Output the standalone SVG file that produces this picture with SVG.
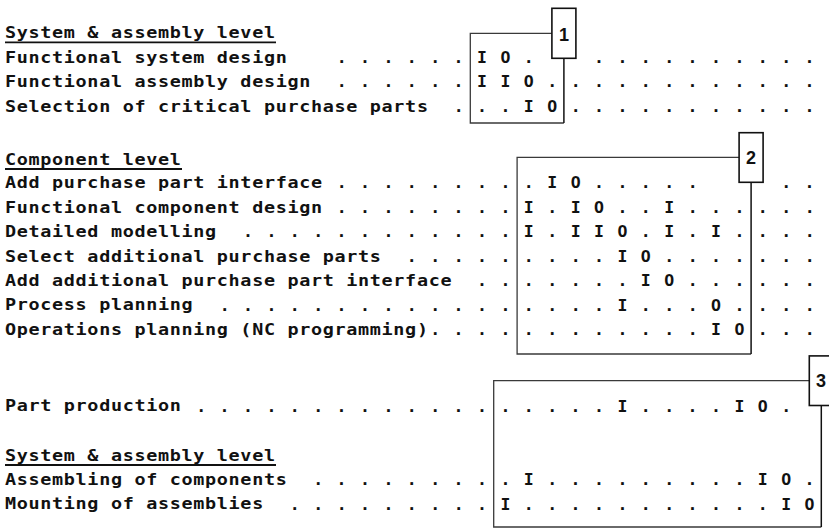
<svg xmlns="http://www.w3.org/2000/svg" width="829" height="529" viewBox="0 0 829 529">
  <style>
    .t { font-family: "DejaVu Sans Mono", "Liberation Mono", monospace; font-weight: bold; font-size: 16.5px; fill: #111; }
    /* labels are widened by scale(1.12 1); 0.584px tracking keeps an 11.78px character pitch */
    .lab { letter-spacing: 0.584px; }
    .g { letter-spacing: 1.766px; }
    .ul { stroke: #111; stroke-width: 1.8; }
    .frame { fill: none; stroke: #3a3a3a; stroke-width: 1.3; }
    .edge { fill: none; stroke: #111; stroke-width: 1.5; }
    .tag { fill: #fff; stroke: #111; stroke-width: 1.6; }
    .n { font-family: "Liberation Sans", Arial, sans-serif; font-weight: bold; font-size: 18px; fill: #111; text-anchor: middle; }
  </style>
  <rect width="829" height="529" fill="#fff"/>

  <!-- Grid columns: column k is centred at x = 482 + 23.4k; runs start half a glyph left of that -->

  <!-- System & assembly level (design) -->
  <g id="heading-system-1">
    <text class="t lab" transform="scale(1.12 1)" x="4.46" y="38.5">System &amp; assembly level</text>
    <line class="ul" x1="5" y1="42.3" x2="276" y2="42.3"/>
  </g>
  <g id="row-functional-system-design">
    <text class="t lab" transform="scale(1.12 1)" x="4.46" y="62.9">Functional system design</text>
    <text class="t g" x="336.63" y="62.9">. . . . . .</text>
    <text class="t g" x="477.03" y="62.9">I O .</text>
    <text class="t g" x="594.03" y="62.9">. . . . . . . . . .</text>
  </g>
  <g id="row-functional-assembly-design">
    <text class="t lab" transform="scale(1.12 1)" x="4.46" y="87.3">Functional assembly design</text>
    <text class="t g" x="336.63" y="87.3">. . . . . .</text>
    <text class="t g" x="477.03" y="87.3">I I O .</text>
    <text class="t g" x="570.63" y="87.3">. . . . . . . . . . .</text>
  </g>
  <g id="row-critical-purchase-parts">
    <text class="t lab" transform="scale(1.12 1)" x="4.46" y="111.7">Selection of critical purchase parts</text>
    <text class="t g" x="453.63" y="111.7">.</text>
    <text class="t g" x="477.03" y="111.7">. . I O</text>
    <text class="t g" x="570.63" y="111.7">. . . . . . . . . . .</text>
  </g>

  <!-- Component level -->
  <g id="heading-component">
    <text class="t lab" transform="scale(1.12 1)" x="4.46" y="165">Component level</text>
    <line class="ul" x1="5" y1="169" x2="182" y2="169"/>
  </g>
  <g id="row-add-purchase-part-interface">
    <text class="t lab" transform="scale(1.12 1)" x="4.46" y="188.3">Add purchase part interface</text>
    <text class="t g" x="336.63" y="188.3">. . . . . . . .</text>
    <text class="t g" x="523.83" y="188.3">. I O . . . . .</text>
    <text class="t g" x="781.23" y="188.3">. .</text>
  </g>
  <g id="row-functional-component-design">
    <text class="t lab" transform="scale(1.12 1)" x="4.46" y="212.7">Functional component design</text>
    <text class="t g" x="336.63" y="212.7">. . . . . . . .</text>
    <text class="t g" x="523.83" y="212.7">I . I O . . I . . .</text>
    <text class="t g" x="757.83" y="212.7">. . .</text>
  </g>
  <g id="row-detailed-modelling">
    <text class="t lab" transform="scale(1.12 1)" x="4.46" y="237.2">Detailed modelling</text>
    <text class="t g" x="243.03" y="237.2">. . . . . . . . . . . .</text>
    <text class="t g" x="523.83" y="237.2">I . I I O . I . I .</text>
    <text class="t g" x="757.83" y="237.2">. . .</text>
  </g>
  <g id="row-select-additional-purchase-parts">
    <text class="t lab" transform="scale(1.12 1)" x="4.46" y="261.6">Select additional purchase parts</text>
    <text class="t g" x="406.83" y="261.6">. . . . .</text>
    <text class="t g" x="523.83" y="261.6">. . . . I O . . . .</text>
    <text class="t g" x="757.83" y="261.6">. . .</text>
  </g>
  <g id="row-add-additional-interface">
    <text class="t lab" transform="scale(1.12 1)" x="4.46" y="286.1">Add additional purchase part interface</text>
    <text class="t g" x="477.03" y="286.1">. .</text>
    <text class="t g" x="523.83" y="286.1">. . . . . I O . . .</text>
    <text class="t g" x="757.83" y="286.1">. . .</text>
  </g>
  <g id="row-process-planning">
    <text class="t lab" transform="scale(1.12 1)" x="4.46" y="310.5">Process planning</text>
    <text class="t g" x="219.63" y="310.5">. . . . . . . . . . . . .</text>
    <text class="t g" x="523.83" y="310.5">. . . . I . . . O .</text>
    <text class="t g" x="757.83" y="310.5">. . .</text>
  </g>
  <g id="row-operations-planning">
    <text class="t lab" transform="scale(1.12 1)" x="4.46" y="335">Operations planning (NC programming)</text>
    <text class="t g" x="430.23" y="335">. . . .</text>
    <text class="t g" x="523.83" y="335">. . . . . . . . I O</text>
    <text class="t g" x="757.83" y="335">. . .</text>
  </g>

  <!-- Production -->
  <g id="row-part-production">
    <text class="t lab" transform="scale(1.12 1)" x="4.46" y="411.5">Part production</text>
    <text class="t g" x="196.23" y="411.5">. . . . . . . . . . . . .</text>
    <text class="t g" x="500.43" y="411.5">. . . . . I . . . . I O .</text>
  </g>

  <!-- System & assembly level (assembly) -->
  <g id="heading-system-2">
    <text class="t lab" transform="scale(1.12 1)" x="4.46" y="461">System &amp; assembly level</text>
    <line class="ul" x1="5" y1="465" x2="276" y2="465"/>
  </g>
  <g id="row-assembling-components">
    <text class="t lab" transform="scale(1.12 1)" x="4.46" y="485.3">Assembling of components</text>
    <text class="t g" x="313.23" y="485.3">. . . . . . . .</text>
    <text class="t g" x="500.43" y="485.3">. I . . . . . . . . . I O .</text>
  </g>
  <g id="row-mounting-assemblies">
    <text class="t lab" transform="scale(1.12 1)" x="4.46" y="509.5">Mounting of assemblies</text>
    <text class="t g" x="289.83" y="509.5">. . . . . . . . .</text>
    <text class="t g" x="500.43" y="509.5">I . . . . . . . . . . . I O</text>
  </g>

  <!-- Phase frames with numbered tags on their top-right corners -->
  <g id="phase-1">
    <path class="frame" d="M563.9 123 H470.3 V33.3 H551.9"/>
    <path class="edge" d="M563.9 58.3 V123"/>
    <rect class="tag" x="551.9" y="8.3" width="24" height="50"/>
    <text class="n" x="563.9" y="40.5">1</text>
  </g>
  <g id="phase-2">
    <path class="frame" d="M751.1 354 H517.1 V157.3 H739.1"/>
    <path class="edge" d="M751.1 182.3 V354"/>
    <rect class="tag" x="739.1" y="132.7" width="24" height="49.6"/>
    <text class="n" x="751.1" y="163.5">2</text>
  </g>
  <g id="phase-3">
    <path class="frame" d="M821.3 527 H493.7 V380.7 H809.3"/>
    <path class="edge" d="M821.3 405.5 V527"/>
    <rect class="tag" x="809.3" y="355.9" width="24" height="49.6"/>
    <text class="n" x="821" y="387">3</text>
  </g>
</svg>
